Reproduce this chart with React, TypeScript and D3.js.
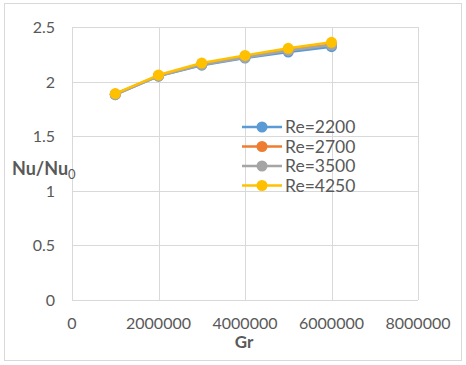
import { useEffect, useRef } from "react";
import * as d3 from "d3";

const grValues = [1000000, 2000000, 3000000, 4000000, 5000000, 6000000];
const re2200 = [1.88, 2.05, 2.15, 2.215, 2.27, 2.32];
const re2700 = [1.885, 2.055, 2.16, 2.225, 2.29, 2.34];
const re3500 = [1.88, 2.05, 2.155, 2.22, 2.285, 2.335];
const re4250 = [1.89, 2.06, 2.17, 2.24, 2.305, 2.36];
const seriesNames = ["Re=2200", "Re=2700", "Re=3500", "Re=4250"];
const seriesColors = ["#5b9bd5", "#ed7d31", "#a5a5a5", "#ffc000"];
const xTicks = [0, 2000000, 4000000, 6000000, 8000000];
const yTicks = [0, 0.5, 1, 1.5, 2, 2.5];

export default function App() {
  const svgRef = useRef<SVGSVGElement>(null);

  useEffect(() => {
    const el = svgRef.current;
    if (!el) return;
    const svg = d3.select(el);
    svg.selectAll("*").remove();

    const font = "Lato, 'Open Sans', sans-serif";

    // chart frame
    svg
      .append("rect")
      .attr("x", 4.5)
      .attr("y", 3.5)
      .attr("width", 457)
      .attr("height", 357)
      .attr("fill", "#fff")
      .attr("stroke", "#d9d9d9");

    const xs = d3.scaleLinear().domain([0, 8000000]).range([72, 418]);
    const ys = d3.scaleLinear().domain([0, 2.5]).range([300, 27]);

    // grid
    svg
      .append("g")
      .selectAll("line")
      .data(yTicks)
      .enter()
      .append("line")
      .attr("x1", xs(0))
      .attr("x2", xs(8000000))
      .attr("y1", (d) => Math.round(ys(d)) + 0.5)
      .attr("y2", (d) => Math.round(ys(d)) + 0.5)
      .attr("stroke", "#d9d9d9")
      .attr("stroke-width", 1);
    svg
      .append("g")
      .selectAll("line")
      .data(xTicks)
      .enter()
      .append("line")
      .attr("x1", (d) => Math.round(xs(d)) + 0.5)
      .attr("x2", (d) => Math.round(xs(d)) + 0.5)
      .attr("y1", ys(2.5))
      .attr("y2", ys(0))
      .attr("stroke", "#d9d9d9")
      .attr("stroke-width", 1);

    // tick labels
    svg
      .append("g")
      .selectAll("text")
      .data(yTicks)
      .enter()
      .append("text")
      .attr("x", 55)
      .attr("y", (d) => ys(d) + 6)
      .attr("text-anchor", "end")
      .attr("fill", "#595959")
      .style("font-family", font)
      .style("font-size", "16px")
      .text((d) => String(d));
    svg
      .append("g")
      .selectAll("text")
      .data(xTicks)
      .enter()
      .append("text")
      .attr("x", (d) => xs(d))
      .attr("y", 329)
      .attr("text-anchor", "middle")
      .attr("fill", "#595959")
      .style("font-family", font)
      .style("font-size", "16px")
      .text((d) => String(d));

    // axis titles
    const yTitle = svg
      .append("text")
      .attr("x", 12)
      .attr("y", 175)
      .attr("fill", "#595959")
      .style("font-family", font)
      .style("font-size", "18px")
      .style("font-weight", "bold");
    yTitle.append("tspan").text("Nu/Nu");
    yTitle
      .append("tspan")
      .attr("dy", 4)
      .style("font-size", "13px")
      .style("font-weight", "normal")
      .text("0");

    svg
      .append("text")
      .attr("x", 244)
      .attr("y", 348)
      .attr("text-anchor", "middle")
      .attr("fill", "#595959")
      .style("font-family", font)
      .style("font-size", "17px")
      .style("font-weight", "bold")
      .text("Gr");

    // series
    const allSeries = [re2200, re2700, re3500, re4250];
    const line = d3
      .line<number>()
      .x((_, i) => xs(grValues[i]))
      .y((d) => ys(d));

    allSeries.forEach((vals, s) => {
      const g = svg.append("g");
      g.append("path")
        .attr("d", line(vals))
        .attr("fill", "none")
        .attr("stroke", seriesColors[s])
        .attr("stroke-width", 2.5)
        .attr("stroke-linejoin", "round");
      g.selectAll("circle")
        .data(vals)
        .enter()
        .append("circle")
        .attr("cx", (_, i) => xs(grValues[i]))
        .attr("cy", (d) => ys(d))
        .attr("r", 5.5)
        .attr("fill", seriesColors[s]);
    });

    // legend
    const lg = svg.append("g");
    seriesNames.forEach((name, i) => {
      const y = 127 + i * 19.5;
      lg.append("line")
        .attr("x1", 242)
        .attr("x2", 282)
        .attr("y1", y)
        .attr("y2", y)
        .attr("stroke", seriesColors[i])
        .attr("stroke-width", 2.5);
      lg.append("circle")
        .attr("cx", 262)
        .attr("cy", y)
        .attr("r", 5.5)
        .attr("fill", seriesColors[i]);
      lg.append("text")
        .attr("x", 285)
        .attr("y", y + 6)
        .attr("fill", "#595959")
        .style("font-family", font)
        .style("font-size", "17.5px")
        .text(name);
    });
  }, []);

  return (
    <svg
      ref={svgRef}
      width={466}
      height={365}
      style={{ position: "absolute", left: 0, top: 0, display: "block" }}
    />
  );
}
